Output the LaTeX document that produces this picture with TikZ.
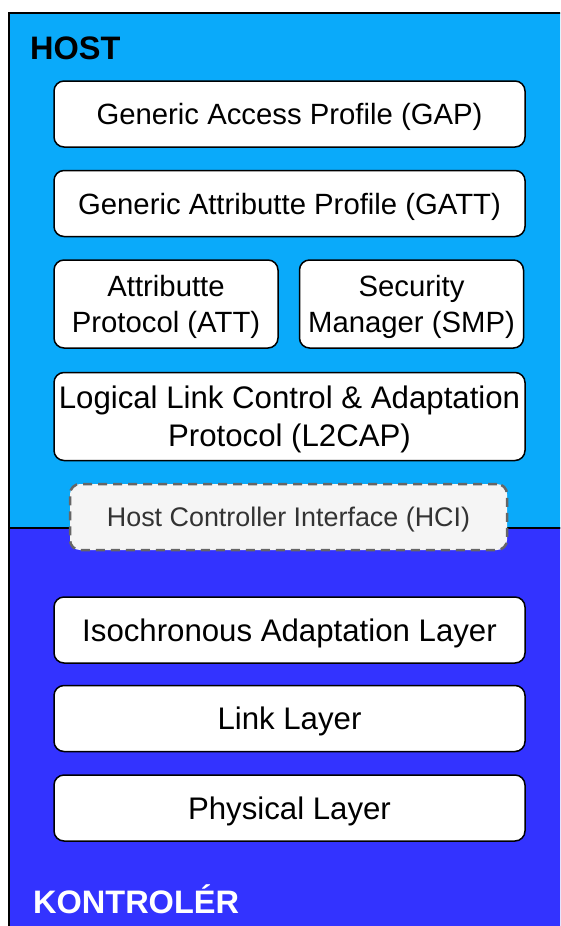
\documentclass[tikz,border=0pt]{standalone}
\usepackage{fontspec}
\setmainfont{Liberation Sans}
\usetikzlibrary{positioning}
\definecolor{hostblue}{HTML}{0AAAFA}
\definecolor{ctrlblue}{HTML}{3333FF}
\definecolor{hcifill}{HTML}{F5F5F5}
\definecolor{hcigray}{HTML}{666666}
\definecolor{hcitext}{HTML}{333333}
\tikzset{
	layer/.style={draw=black, line width=1.5pt, fill=white, rounded corners=10pt,
		align=center, inner sep=0pt, minimum height=66pt, text depth=0pt,
		font=\fontsize{29.3}{36}\selectfont},
	wide/.style={layer, minimum width=471pt},
	big/.style={wide, font=\fontsize{31.2}{38}\selectfont},
	half/.style={layer, minimum width=224pt, minimum height=88pt},
	hcibox/.style={draw=hcigray, fill=hcifill, line width=2.5pt, dash pattern=on 9pt off 6pt,
		rounded corners=10pt, minimum width=437pt, minimum height=66pt, inner sep=0pt,
		text depth=0pt, text=hcitext, font=\fontsize{26.9}{32}\selectfont},
	title/.style={anchor=base west, inner sep=0pt, font=\fontsize{32.5}{38}\selectfont\bfseries}
}
\begin{document}
\begin{tikzpicture}[x=1pt,y=-1pt]
	\useasboundingbox (0,0) rectangle (560,926);
	\clip (0,0) rectangle (560,926);
	\filldraw[fill=hostblue, draw=black, line width=1.5pt] (9,13) rectangle (580,528);
	\filldraw[fill=ctrlblue, draw=black, line width=1.5pt] (9,528) rectangle (580,960);
	\node[title] (host) at (30,59) {HOST};
	\node[title, text=white] (ctrl) at (33,913) {KONTROLÉR};

	\node[wide] (gap) at (289.5,114) {Generic Access Profile (GAP)};
	\node[wide, below=22pt of gap] (gatt) {Generic Attributte Profile (GATT)};
	\node[half, below=22pt of gatt.south west, anchor=north west] (att) {Attributte\\Protocol (ATT)};
	\node[half, right=20pt of att] (smp) {Security\\Manager (SMP)};
	\node[big, minimum height=88pt, below=23pt of att.south west, anchor=north west] (l2cap) {Logical Link Control \& Adaptation\\Protocol (L2CAP)};
	\node[hcibox] (hci) at (288.5,517) {Host Controller Interface (HCI)};

	\node[big] (iso) at (289.5,630) {Isochronous Adaptation Layer};
	\node[big, below=21pt of iso] (ll) {Link Layer};
	\node[big, below=22pt of ll] (phy) {Physical Layer};
\end{tikzpicture}
\end{document}
